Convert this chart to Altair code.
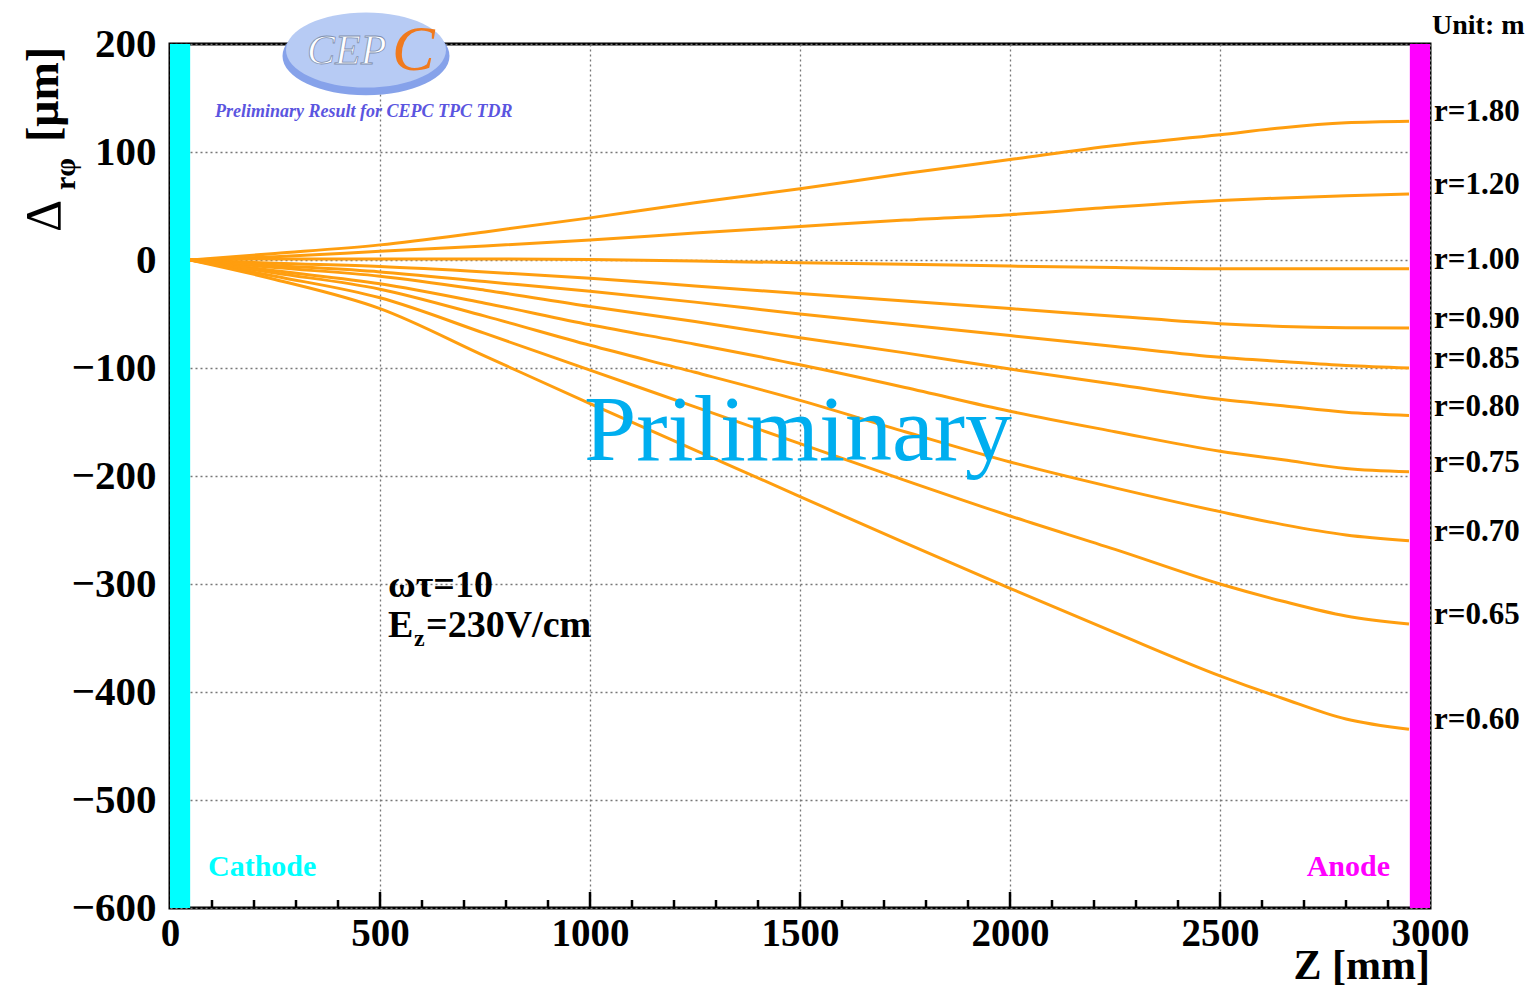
import altair as alt
import pandas as pd

# ---- data ----
z_pts = [48, 250, 500, 750, 1000, 1250, 1500, 1750, 2000, 2250, 2500, 2650, 2800, 2950]
radii = ["1.80", "1.20", "1.00", "0.90", "0.85", "0.80", "0.75", "0.70", "0.65", "0.60"]
d_180 = [0, 6, 14, 26, 39, 53, 66, 80, 93, 106, 116, 122.5, 127, 128.5]
d_120 = [0, 3, 8, 13, 18.5, 25, 31, 37, 42, 49, 55, 57.5, 59.5, 61]
d_100 = [0, 1, 1, 1, 0.5, -1, -2.5, -4, -5.6, -7, -8, -8, -8, -8]
d_090 = [0, -3, -6, -11, -17, -24, -31, -38, -45, -52, -59, -61.5, -62.7, -63]
d_085 = [0, -5, -11, -20, -29, -39, -50, -60, -70, -80, -90, -94, -97.7, -100]
d_080 = [0, -7, -15, -28, -43, -57, -72, -86, -101, -115, -129, -135, -141, -144]
d_075 = [0, -10, -22, -40, -60, -78, -97, -118, -140, -159, -177, -185, -193, -196]
d_070 = [0, -12, -27, -52, -79, -104, -130, -159, -187, -211, -233, -245, -254.6, -260]
d_065 = [0, -15, -35, -68, -102, -136, -170, -204, -237, -268, -300, -316, -329.6, -337]
d_060 = [0, -18, -45, -89, -133, -176, -219, -262, -304, -345, -385, -406, -425, -434.5]
series = [d_180, d_120, d_100, d_090, d_085, d_080, d_075, d_070, d_065, d_060]

x_ticks = [0, 500, 1000, 1500, 2000, 2500, 3000]
y_ticks = [-600, -500, -400, -300, -200, -100, 0, 100, 200]
minor_z = [z for z in range(100, 3000, 100) if z % 500 != 0]
major_z = [500, 1000, 1500, 2000, 2500]
cathode_z = [0, 48]
anode_z = [2952, 3000]

rows = []
for r, vals in zip(radii, series):
    for z, v in zip(z_pts, vals):
        rows.append({"r": r, "z": z, "d": v})
df = pd.DataFrame(rows)
lab_df = pd.DataFrame({"r": radii, "end": [s[-1] for s in series],
                       "lab": ["r=" + r for r in radii]})

W, H = 1260, 864
SERIF = "Liberation Serif"
xs = alt.Scale(domain=[0, 3000], nice=False, zero=False)
ys = alt.Scale(domain=[-600, 200], nice=False, zero=False)
one = pd.DataFrame({"a": [0]})

xaxis = alt.Axis(values=x_ticks, format="d", title=None, labelFont=SERIF,
                 labelFontWeight="bold", labelFontSize=39, labelColor="black",
                 labelPadding=6, ticks=False, domain=False, grid=True, gridDash=[2, 3],
                 gridColor="#777777", gridWidth=1.3, labelFlush=False)
yaxis = alt.Axis(values=y_ticks, format="d", title=None, labelFont=SERIF,
                 labelFontWeight="bold", labelFontSize=41, labelColor="black",
                 labelPadding=14, ticks=False, domain=False, grid=True, gridDash=[2, 3],
                 gridColor="#777777", gridWidth=1.3, labelFlush=False)

lines = alt.Chart(df).mark_line(color="#FF9E0F", strokeWidth=3,
                                interpolate="monotone").encode(
    x=alt.X("z:Q", scale=xs, axis=xaxis),
    y=alt.Y("d:Q", scale=ys, axis=yaxis),
    detail="r:N",
)

band_c = alt.Chart(pd.DataFrame({"z0": [cathode_z[0]], "z1": [cathode_z[1]]})).mark_rect(
    color="#00FFFF").encode(x=alt.X("z0:Q", scale=xs), x2="z1:Q",
                            y=alt.value(0), y2=alt.value(H))
band_a = alt.Chart(pd.DataFrame({"z0": [anode_z[0]], "z1": [anode_z[1]]})).mark_rect(
    color="#FF00FF").encode(x=alt.X("z0:Q", scale=xs), x2="z1:Q",
                            y=alt.value(0), y2=alt.value(H))

minor = alt.Chart(pd.DataFrame({"z": minor_z})).mark_rule(color="black", strokeWidth=2.5).encode(
    x=alt.X("z:Q", scale=xs), y=alt.value(H), y2=alt.value(H - 8))
major = alt.Chart(pd.DataFrame({"z": major_z})).mark_rule(color="black", strokeWidth=2.5).encode(
    x=alt.X("z:Q", scale=xs), y=alt.value(H), y2=alt.value(H - 16))

rlabels = alt.Chart(lab_df).mark_text(font=SERIF, fontWeight="bold", fontSize=31,
                                       align="left", baseline="middle", dx=4, dy=-9,
                                       color="black").encode(
    x=alt.datum(3000), y=alt.Y("end:Q", scale=ys), text="lab:N")


def txt(text, x, y, size, color="black", weight="bold", style="normal",
        align="left", baseline="alphabetic", angle=0, font=SERIF, **kw):
    return alt.Chart(one).mark_text(text=text, fontSize=size, color=color, fontWeight=weight,
                                    fontStyle=style, align=align, baseline=baseline,
                                    angle=angle, font=font, **kw).encode(
        x=alt.value(x), y=alt.value(y))


ellipse = "M -1 0 A 1 0.47 0 1 0 1 0 A 1 0.47 0 1 0 -1 0 Z"
logo_shadow = alt.Chart(one).mark_point(shape=ellipse, filled=True, size=167 ** 2,
                                         color="#86A2EA", opacity=1).encode(
    x=alt.value(196), y=alt.value(12))
logo_main = alt.Chart(one).mark_point(shape=ellipse, filled=True, size=160 ** 2,
                                       color="#B7CBF4", opacity=1).encode(
    x=alt.value(196), y=alt.value(6))

annots = [
    logo_shadow, logo_main,
    txt("CEP", 137, 20, 42, color="white", weight="normal", style="italic",
        stroke="#8090B0", strokeWidth=0.8),
    txt("C", 222, 26, 64, color="#F07A1E", weight="normal", style="italic"),
    txt("Preliminary Result for CEPC TPC TDR", 45, 73, 18, color="#5B55E0",
        style="italic"),
    txt("Priliminary", 628, 416, 94, color="#00AEEF", weight="normal", align="center"),
    txt("\u03c9\u03c4=10", 218, 553, 38),
    txt("E", 218, 593, 38),
    txt("z", 244, 602, 24),
    txt("=230V/cm", 256, 593, 38),
    txt("Cathode", 38, 832, 30, color="#00FFFF"),
    txt("Anode", 1220, 832, 30, color="#FF00FF", align="right"),
    txt("Unit: m", 1262, -10, 28),
    txt("Z [mm]", W, 935, 42, align="right"),
    txt("\u0394", -110, 188, 50, weight="normal", angle=270),
    txt("r\u03c6", -95, 146, 30, angle=270),
    txt("[\u03bcm]", -112, 98, 46, angle=270),
]

chart = alt.layer(
    band_c, band_a, lines, minor, major, rlabels, *annots
).properties(
    width=W, height=H,
    autosize=alt.AutoSizeParams(type="none"),
    padding={"left": 162, "top": 36, "right": 100, "bottom": 85},
).configure_view(stroke="black", strokeWidth=3)

chart.save("out.html", embed_options={"renderer": "svg", "actions": False})
